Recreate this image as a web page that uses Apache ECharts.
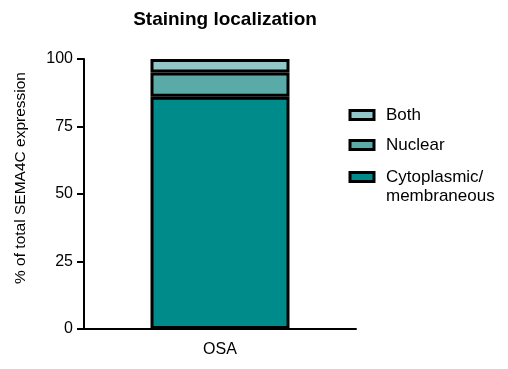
<!DOCTYPE html>
<html><head><meta charset="utf-8">
<script src="https://cdn.jsdelivr.net/npm/echarts@6/dist/echarts.min.js"></script>
<style>html,body{margin:0;padding:0;background:#fff}#c{width:508px;height:369px}</style>
</head><body><div id="c"></div>
<script>
const categories = ['OSA'];
const cytoplasmic = [86];
const nuclear = [9];
const both = [5];
const yTicks = [0, 25, 50, 75, 100];
const seriesNames = ['Cytoplasmic/\nmembraneous', 'Nuclear', 'Both'];
const colors = ['#008b8b', '#5aaba8', '#93c6c9'];

const chart = echarts.init(document.getElementById('c'));
const F = '"Liberation Sans", Arial, sans-serif';
const mk = (name, data, color) => ({
  name, type: 'bar', stack: 'total', data, barWidth: 139,
  itemStyle: { color, borderColor: '#000', borderWidth: 3 }
});
const legendBase = {
  orient: 'vertical', left: 348.5, padding: 0, itemWidth: 24, itemHeight: 9, itemGap: 13,
  icon: 'rect',
  itemStyle: { borderColor: '#000', borderWidth: 3 },
  textStyle: { fontFamily: F, fontSize: 17, color: '#000', padding: [0, 0, 0, 7] }
};
chart.setOption({
  animation: false,
  title: { text: 'Staining localization', left: 220, textAlign: 'center', top: 5,
    textStyle: { fontFamily: F, fontSize: 19, fontWeight: 'bold', color: '#000' } },
  grid: { left: 84, right: 152, top: 59, bottom: 40 },
  legend: [
    Object.assign({}, legendBase, { top: 106.5, data: [seriesNames[2], seriesNames[1]] }),
    Object.assign({}, legendBase, {
      top: 148.5, data: [seriesNames[0]],
      formatter: n => '\n' + n,
      textStyle: { fontFamily: F, fontSize: 17, color: '#000', lineHeight: 19, padding: [0, 0, 0, 7] }
    })
  ],
  xAxis: {
    type: 'category', data: categories,
    axisLine: { lineStyle: { color: '#000', width: 2 } },
    axisTick: { alignWithLabel: true, length: 7, lineStyle: { color: '#000', width: 2 } },
    axisLabel: { fontFamily: F, fontSize: 16, color: '#000', margin: 13 }
  },
  yAxis: {
    type: 'value', min: yTicks[0], max: yTicks[yTicks.length - 1], interval: 25,
    name: '% of total SEMA4C expression', nameLocation: 'middle', nameGap: 55,
    nameTextStyle: { fontFamily: F, fontSize: 15.5, color: '#000', padding: [0, 0, 0, 32] },
    axisLine: { show: true, lineStyle: { color: '#000', width: 2 } },
    axisTick: { show: true, length: 7, lineStyle: { color: '#000', width: 2 } },
    axisLabel: { fontFamily: F, fontSize: 16, color: '#000', margin: 11 },
    splitLine: { show: false }
  },
  series: [
    mk(seriesNames[0], cytoplasmic, colors[0]),
    mk(seriesNames[1], nuclear, colors[1]),
    mk(seriesNames[2], both, colors[2])
  ]
});
</script></body></html>
